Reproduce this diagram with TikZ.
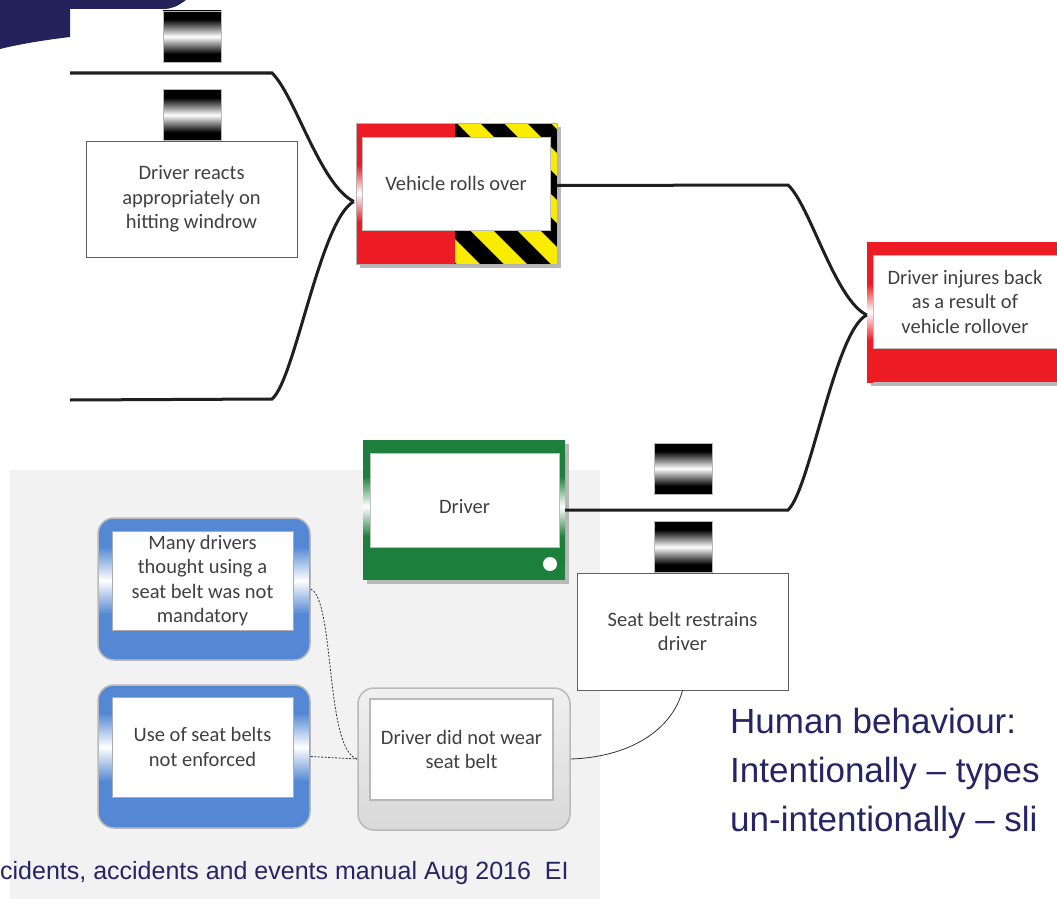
\documentclass[tikz,border=0pt]{standalone}
\usepackage{fontspec}
\setmainfont{Carlito}
\newfontfamily\arialfont{Liberation Sans}
\usetikzlibrary{calc}

\definecolor{hazred}{RGB}{237,28,36}
\definecolor{hazyellow}{RGB}{250,236,0}
\definecolor{drvgreen}{RGB}{28,128,60}
\definecolor{causeblue}{RGB}{84,136,212}
\definecolor{navytext}{RGB}{38,36,100}
\definecolor{navyband}{RGB}{36,34,90}
\definecolor{txtgray}{RGB}{64,64,64}
\definecolor{panelgray}{RGB}{242,242,242}

% barrier blocks: black, fading to a white band in the middle
\pgfdeclareverticalshading{barrierfade}{100bp}{color(0bp)=(black); color(33bp)=(black); color(50bp)=(white); color(67bp)=(black); color(100bp)=(black)}
% side strips of the framed boxes, paling to white half way up
\pgfdeclareverticalshading{redfade}{100bp}{color(0bp)=(hazred); color(40bp)=(hazred); color(50bp)=(white); color(60bp)=(hazred); color(100bp)=(hazred)}
\pgfdeclareverticalshading{greenfade}{100bp}{color(0bp)=(drvgreen); color(36bp)=(drvgreen); color(50bp)=(white); color(64bp)=(drvgreen); color(100bp)=(drvgreen)}
\pgfdeclareverticalshading{bluefade}{100bp}{color(0bp)=(causeblue); color(33bp)=(causeblue); color(50bp)=(white); color(67bp)=(causeblue); color(100bp)=(causeblue)}

\begin{document}
\begin{tikzpicture}[x=1pt,y=-1pt,
  boxtext/.style={font=\fontsize{20.5}{24.5}\selectfont, text=txtgray, align=center},
  plainbox/.style={boxtext, draw=gray!75!black, line width=0.9pt, fill=white, inner sep=0pt},
  innerbox/.style={boxtext, fill=white, draw=gray!50, line width=0.6pt, inner sep=0pt},
  barrier/.style={draw=gray!55, line width=0.8pt, shade, shading=barrierfade,
                  minimum width=58pt, minimum height=51pt, inner sep=0pt},
  frame/.style={inner sep=0pt},
  causebox/.style={draw=gray!55, line width=1.5pt, fill=causeblue, rounded corners=16pt, inner sep=0pt,
                   minimum width=212pt, minimum height=142pt},
  mainline/.style={line width=3pt, black!88},
  thinlink/.style={gray!40!black, line width=0.8pt},
  dottedlink/.style={thinlink, dash pattern=on 2pt off 1.5pt},
  slide/.style={anchor=base west, inner sep=0pt, text=navytext},
  bigslide/.style={slide, font=\arialfont\fontsize{35}{42}\selectfont}
]
\useasboundingbox (0,0) rectangle (1057,899);

% light backdrop behind the lower cause boxes
\fill[panelgray] (10,470) rectangle (600,899);

% navy band in the top left corner
\fill[navyband] (0,0) -- (186,0) .. controls (178,6) and (172,9) .. (163,9) -- (70,9) -- (70,37)
  .. controls (45,40) and (20,44) .. (0,49) -- cycle;

% barriers
\node[barrier] (bA) at (192,36.5) {};
\node[barrier] (bB) at (192,115) {};
\node[barrier] (bC) at (683.5,468.5) {};
\node[barrier] (bD) at (683.5,547) {};

% barrier box on the upper threat line
\node[plainbox, minimum width=211pt, minimum height=116pt] (dra) at (191.5,199)
  {Driver reacts\\appropriately on\\hitting windrow};

% top event: red / hazard-striped frame
\fill[black!28] (360,127) rectangle (561,268);
\node[frame, minimum width=201pt, minimum height=141pt] (vro) at (456.5,193.5) {};
\fill[hazred] (356,123) rectangle (455,264);
\fill[hazyellow] (455,123) rectangle (557,264);
\begin{scope}
  \clip (455,123) rectangle (557,264);
  \foreach \k in {-5,...,2}
    \fill[black] ({480+47*\k},123) -- ({503.5+47*\k},123) -- ({663.5+47*\k},283) -- ({640+47*\k},283) -- cycle;
\end{scope}
\shade[shading=redfade] (356,123) rectangle (362,264);
\draw[gray!60, line width=0.6pt] (356,123) rectangle (557,264);
\node[innerbox, minimum width=188pt, minimum height=93pt] (vroi) at (456,183.5) {Vehicle rolls over};

% consequence: red frame
\fill[black!28] (871,246) rectangle (1070,386);
\node[frame, minimum width=200pt, minimum height=140pt] (dib) at (967,312) {};
\fill[hazred] (867,242) rectangle (1067,382);
\shade[shading=redfade] (867,242) rectangle (873,382);
\node[innerbox, minimum width=184pt, minimum height=93pt] (dibi) at (965,301.5)
  {Driver injures back\\as a result of\\vehicle rollover};

% degradation factor: green frame
\fill[black!28] (367,444) rectangle (569,584);
\node[frame, minimum width=202pt, minimum height=140pt] (drv) at (464,510) {};
\fill[drvgreen] (363,440) rectangle (565,580);
\shade[shading=greenfade] (363,453) rectangle (370,560);
\shade[shading=greenfade] (559,453) rectangle (565,560);
\fill[white] (550,564) circle (7);
\node[innerbox, text height=26pt, text depth=0pt, minimum width=189pt, minimum height=94pt] (drvi) at (464.5,500) {Driver};

% barrier box on the driver line
\node[plainbox, minimum width=211pt, minimum height=117pt] (sbr) at (682.5,631.5)
  {Seat belt restrains\\driver};

% blue cause boxes
\node[causebox] (mdt) at (204,589) {};
\shade[shading=bluefade] (99.5,531) rectangle (112,630);
\shade[shading=bluefade] (293,531) rectangle (308.5,630);
\node[innerbox, draw=gray!65, line width=0.9pt, minimum width=181pt, minimum height=99pt] (mdti) at (202.5,580.5)
  {Many drivers\\thought using a\\seat belt was not\\mandatory};

\node[causebox, minimum height=143pt] (uos) at (204,756.5) {};
\shade[shading=bluefade] (99.5,697) rectangle (112,797);
\shade[shading=bluefade] (293,697) rectangle (308.5,797);
\node[innerbox, draw=gray!65, line width=0.9pt, minimum width=181pt, minimum height=100pt] (uosi) at (202.5,747)
  {Use of seat belts\\not enforced};

% grey failure box
\node[draw=gray!55, line width=1.5pt, top color=gray!12, bottom color=gray!30, rounded corners=16pt,
      inner sep=0pt, minimum width=212pt, minimum height=142pt] (dnw) at (464,759) {};
\node[innerbox, draw=gray!55, line width=2.5pt, minimum width=183pt, minimum height=101pt] (dnwi) at (461.5,749.5)
  {Driver did not wear\\seat belt};

% thick bow-tie lines
\coordinate (inA) at (70,73);
\coordinate (kA) at (272,73);
\coordinate (inB) at (70,400);
\coordinate (kB) at (272,399);
\coordinate (joinL) at ($(vro.west)+(-2,8)$);
\draw[mainline] (inA) -- (kA) .. controls (295,95) and (320,185) .. (joinL);
\draw[mainline] (inB) -- (kB) .. controls (295,380) and (320,220) .. (joinL);

\coordinate (vroOut) at ($(vro.east)+(0,-8)$);
\coordinate (kC) at (788,185);
\coordinate (kD) at (788,510);
\coordinate (joinR) at ($(dib.west)+(0,3)$);
\draw[mainline] (vroOut) -- (kC) .. controls (810,205) and (835,300) .. (joinR);
\draw[mainline] (drv.east) -- (kD) .. controls (810,490) and (835,330) .. (joinR);

% thin cause links
\draw[dottedlink] (mdt.east) .. controls (335,600) and (325,750) .. (dnw.west);
\draw[dottedlink] (uos.east) -- (dnw.west);
\draw[thinlink] (dnw.east) .. controls (630,757) and (672,730) .. (sbr.south);

% slide text
\node[bigslide] (hb1) at (730,733) {Human behaviour:};
\node[bigslide] (hb2) at (730,782) {Intentionally – types};
\node[bigslide] (hb3) at (730,831) {un-intentionally – sli};
\node[slide, font=\arialfont\fontsize{25}{29}\selectfont] (src) at (0,879)
  {cidents, accidents and events manual Aug 2016\ \ EI};
\end{tikzpicture}
\end{document}
